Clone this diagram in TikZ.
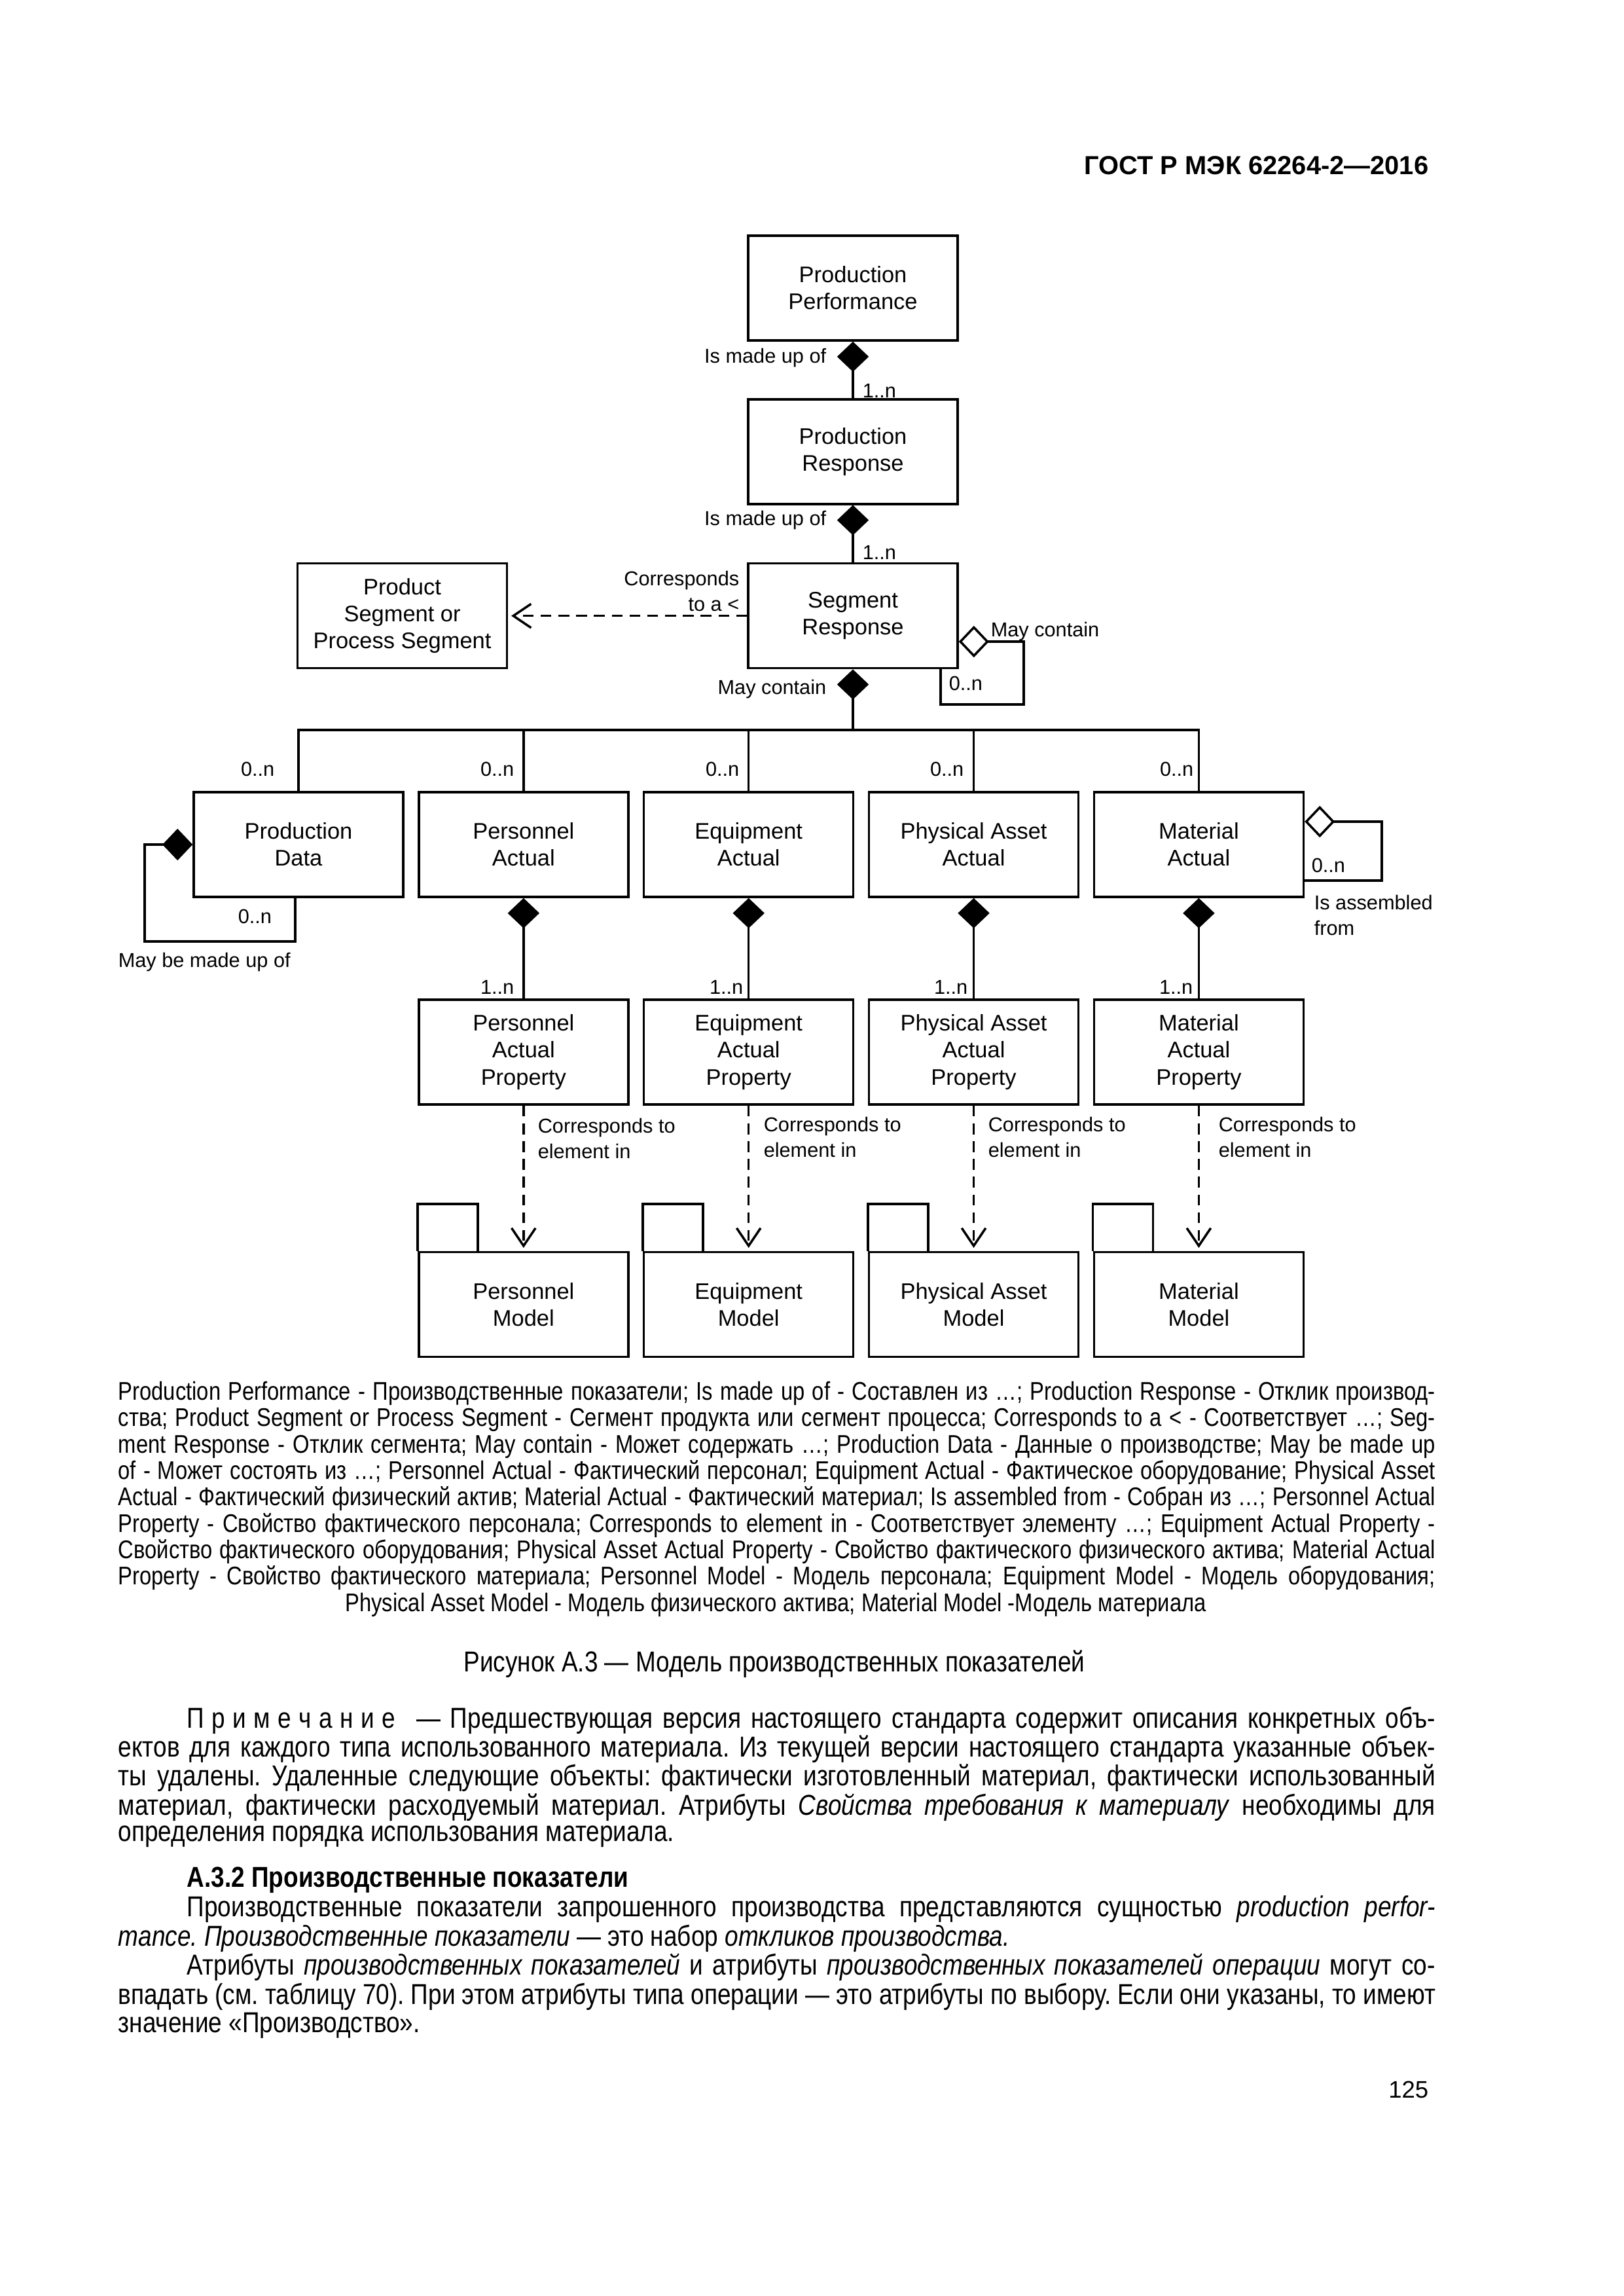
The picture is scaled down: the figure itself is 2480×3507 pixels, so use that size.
\documentclass[tikz,border=0pt]{standalone}
\usepackage{fontspec}
\setmainfont{Liberation Sans}
\newfontfamily\narrowfont{Liberation Sans}[FakeStretch=0.84]
\usetikzlibrary{arrows.meta,positioning}
\frenchspacing

\newcommand{\boxfont}{\fontsize{8.3}{9.9}\selectfont}
\newcommand{\lblfont}{\fontsize{7.4}{9.2}\selectfont}
\newcommand{\capfont}{\narrowfont\fontsize{9.4}{10}\selectfont}
\newcommand{\bodyfont}{\narrowfont\fontsize{10.6}{12}\selectfont}
\newcommand{\jline}[1]{\makebox[170.4mm][s]{#1}}
\newcommand{\jlinei}[1]{\makebox[161.5mm][s]{#1}}
\newcommand{\ls}{\kern.26em}

\tikzset{
  box/.style={draw, line width=0.85pt, minimum width=27.1mm, minimum height=13.55mm,
              align=center, font=\boxfont, inner sep=0pt},
  lbl/.style={font=\lblfont, inner sep=0pt},
  comp/.style={{Diamond[length=3.9mm,width=4.1mm]}-},
  agg/.style={{Diamond[open,length=3.9mm,width=4.1mm]}-},
  dep/.style={dash pattern=on 1.4mm off 0.9mm, -{Straight Barb[length=2.3mm,width=3.1mm]},
              shorten >=0.4mm},
  txt/.style={inner sep=0pt, anchor=west}
}

\begin{document}
\begin{tikzpicture}[x=0.08468mm, y=-0.08468mm, line width=0.85pt]
  \fill[white] (0,0) rectangle (2480,3507);
  \useasboundingbox (0,0) rectangle (2480,3507);

  % header and page number
  \node[inner sep=0pt, anchor=east, font=\bfseries\fontsize{9.6}{11}\selectfont] (head) at (2184,253) {ГОСТ Р МЭК 62264-2—2016};
  \node[inner sep=0pt, anchor=east, font=\fontsize{8.8}{10}\selectfont] (page) at (2184,3192) {125};

  % upper chain
  \node[box] (PP) at (1303,440) {Production\\Performance};
  \node[box] (PR) [below=7.3mm of PP] {Production\\Response};
  \node[box] (SR) [below=7.4mm of PR] {Segment\\Response};
  \node[box] (PS) [left=30.9mm of SR] {Product\\Segment or\\Process Segment};

  % actuals
  \node[box] (PD)  at (456,1290)         {Production\\Data};
  \node[box] (PA)  [right=1.72mm of PD]  {Personnel\\Actual};
  \node[box] (EA)  [right=1.72mm of PA]  {Equipment\\Actual};
  \node[box] (PhA) [right=1.72mm of EA]  {Physical Asset\\Actual};
  \node[box] (MA)  [right=1.72mm of PhA] {Material\\Actual};

  % properties
  \node[box] (PAP)  [below=13mm of PA]  {Personnel\\Actual\\Property};
  \node[box] (EAP)  [below=13mm of EA]  {Equipment\\Actual\\Property};
  \node[box] (PhAP) [below=13mm of PhA] {Physical Asset\\Actual\\Property};
  \node[box] (MAP)  [below=13mm of MA]  {Material\\Actual\\Property};

  % models
  \node[box] (PM)  [below=18.8mm of PAP]  {Personnel\\Model};
  \node[box] (EM)  [below=18.8mm of EAP]  {Equipment\\Model};
  \node[box] (PhM) [below=18.8mm of PhAP] {Physical Asset\\Model};
  \node[box] (MM)  [below=18.8mm of MAP]  {Material\\Model};
  \draw (PM.north west) -- ++(0,-72) -- ++(92,0) -- ++(0,72);
  \draw (EM.north west) -- ++(0,-72) -- ++(92,0) -- ++(0,72);
  \draw (PhM.north west) -- ++(0,-72) -- ++(92,0) -- ++(0,72);
  \draw (MM.north west) -- ++(0,-72) -- ++(92,0) -- ++(0,72);

  % connectors
  \draw[comp] (PP.south) -- (PR.north);
  \draw[comp] (PR.south) -- (SR.north);
  \draw[dep] (SR.west) -- (PS.east);

  \coordinate (sr1) at (1564,980);
  \coordinate (sr2) at (1564,1076);
  \coordinate (sr3) at (1437,1076);
  \draw[agg] (sr1 -| SR.east) -- (sr1) -- (sr2) -- (sr3) -- (sr3 |- SR.south);

  \coordinate (bus) at (1303,1115);
  \draw[comp] (SR.south) -- (SR.south |- bus);
  \draw (PD.north) |- (MA.north |- bus) -- (MA.north);
  \draw (PA.north |- bus) -- (PA.north);
  \draw (EA.north |- bus) -- (EA.north);
  \draw (PhA.north |- bus) -- (PhA.north);

  \coordinate (pd1) at (221,1438);
  \coordinate (pd2) at (451,1438);
  \draw[comp] (PD.west) -| (pd1) -- (pd2) -- (pd2 |- PD.south);

  \coordinate (ma1) at (2111,1255);
  \coordinate (ma2) at (2111,1345);
  \draw[agg] (ma1 -| MA.east) -- (ma1) -- (ma2) -- (ma2 -| MA.east);

  \draw[comp] (PA.south) -- (PAP.north);
  \draw[comp] (EA.south) -- (EAP.north);
  \draw[comp] (PhA.south) -- (PhAP.north);
  \draw[comp] (MA.south) -- (MAP.north);

  \draw[dep] (PAP.south) -- (PM.north);
  \draw[dep] (EAP.south) -- (EM.north);
  \draw[dep] (PhAP.south) -- (PhM.north);
  \draw[dep] (MAP.south) -- (MM.north);

  % labels
  \node[lbl, anchor=east] (mu1) at (1264,547) {Is made up of};
  \node[lbl, anchor=west] (n1) at (1316,597) {1..n};
  \node[lbl, anchor=east] (mu2) at (1264,795) {Is made up of};
  \node[lbl, anchor=west] (n2) at (1316,844) {1..n};
  \node[lbl, anchor=east, align=right] (ct) at (1131,903) {Corresponds\\to a <};
  \node[lbl, anchor=west] (mc1) at (1512,965) {May contain};
  \node[lbl, anchor=west] (n3) at (1448,1044) {0..n};
  \node[lbl, anchor=east] (mc2) at (1264,1053) {May contain};

  \node[lbl, anchor=east] (z1) at (421,1175) {0..n};
  \node[lbl, anchor=east] (z2) at (787,1175) {0..n};
  \node[lbl, anchor=east] (z3) at (1131,1175) {0..n};
  \node[lbl, anchor=east] (z4) at (1474,1175) {0..n};
  \node[lbl, anchor=east] (z5) at (1825,1175) {0..n};

  \node[lbl, anchor=west] (z6) at (362,1400) {0..n};
  \node[lbl, anchor=west] (mb) at (179,1470) {May be made up of};
  \node[lbl, anchor=west] (z7) at (2002,1322) {0..n};
  \node[lbl, anchor=west, align=left] (ia) at (2006,1398) {Is assembled\\from};

  \node[lbl, anchor=east] (o1) at (787,1508) {1..n};
  \node[lbl, anchor=east] (o2) at (1137,1508) {1..n};
  \node[lbl, anchor=east] (o3) at (1480,1508) {1..n};
  \node[lbl, anchor=east] (o4) at (1824,1508) {1..n};

  \node[lbl, anchor=west, align=left] (ce1) at (820,1739) {Corresponds to\\element in};
  \node[lbl, anchor=west, align=left] (ce2) at (1165,1737) {Corresponds to\\element in};
  \node[lbl, anchor=west, align=left] (ce3) at (1508,1737) {Corresponds to\\element in};
  \node[lbl, anchor=west, align=left] (ce4) at (1860,1737) {Corresponds to\\element in};

  % legend under the figure
  \node[txt, font=\capfont] (c1) at (179,2128) {\jline{Production Performance - Производственные показатели; Is made up of - Составлен из …; Production Response - Отклик производ-}};
  \node[txt, font=\capfont] (c2) at (179,2168) {\jline{ства; Product Segment or Process Segment - Сегмент продукта или сегмент процесса; Corresponds to a < - Соответствует …; Seg-}};
  \node[txt, font=\capfont] (c3) at (179,2209) {\jline{ment Response - Отклик сегмента; May contain - Может содержать …; Production Data - Данные о производстве; May be made up}};
  \node[txt, font=\capfont] (c4) at (179,2249) {\jline{of - Может состоять из …; Personnel Actual - Фактический персонал; Equipment Actual - Фактическое оборудование; Physical Asset}};
  \node[txt, font=\capfont] (c5) at (179,2289) {\jline{Actual - Фактический физический актив; Material Actual - Фактический материал; Is assembled from - Собран из …; Personnel Actual}};
  \node[txt, font=\capfont] (c6) at (179,2330) {\jline{Property - Свойство фактического персонала; Corresponds to element in - Соответствует элементу …; Equipment Actual Property -}};
  \node[txt, font=\capfont] (c7) at (179,2370) {\jline{Свойство фактического оборудования; Physical Asset Actual Property - Свойство фактического физического актива; Material Actual}};
  \node[txt, font=\capfont] (c8) at (179,2410) {\jline{Property - Свойство фактического материала; Personnel Model - Модель персонала; Equipment Model - Модель оборудования;}};
  \node[inner sep=0pt, font=\capfont] (c9) at (1185,2451) {Physical Asset Model - Модель физического актива; Material Model -Модель материала};

  \node[inner sep=0pt, font=\bodyfont] (title) at (1183,2542) {Рисунок А.3 — Модель производственных показателей};

  % note
  \node[txt, font=\bodyfont] (b1) at (284,2628) {\jlinei{П\ls р\ls и\ls м\ls е\ls ч\ls а\ls н\ls и\ls е\kern.4em{} — Предшествующая версия настоящего стандарта содержит описания конкретных объ-}};
  \node[txt, font=\bodyfont] (b2) at (179,2672) {\jline{ектов для каждого типа использованного материала. Из текущей версии настоящего стандарта указанные объек-}};
  \node[txt, font=\bodyfont] (b3) at (179,2716) {\jline{ты удалены. Удаленные следующие объекты: фактически изготовленный материал, фактически использованный}};
  \node[txt, font=\bodyfont] (b4) at (179,2761) {\jline{материал, фактически расходуемый материал. Атрибуты \textit{Свойства требования к материалу} необходимы для}};
  \node[txt, font=\bodyfont] (b5) at (179,2805) {определения порядка использования материала.};

  % section
  \node[txt, font=\bodyfont\bfseries] (sec) at (284,2872) {А.3.2 Производственные показатели};
  \node[txt, font=\bodyfont] (p1) at (284,2916) {\jlinei{Производственные показатели запрошенного производства представляются сущностью \textit{production perfor-}}};
  \node[txt, font=\bodyfont] (p2) at (179,2961) {\textit{mance. Производственные показатели} — это набор \textit{откликов производства.}};
  \node[txt, font=\bodyfont] (p3) at (284,3005) {\jlinei{Атрибуты \textit{производственных показателей} и атрибуты \textit{производственных показателей операции} могут со-}};
  \node[txt, font=\bodyfont] (p4) at (179,3050) {\jline{впадать (см. таблицу 70). При этом атрибуты типа операции — это атрибуты по выбору. Если они указаны, то имеют}};
  \node[txt, font=\bodyfont] (p5) at (179,3094) {значение «Производство».};
\end{tikzpicture}
\end{document}
